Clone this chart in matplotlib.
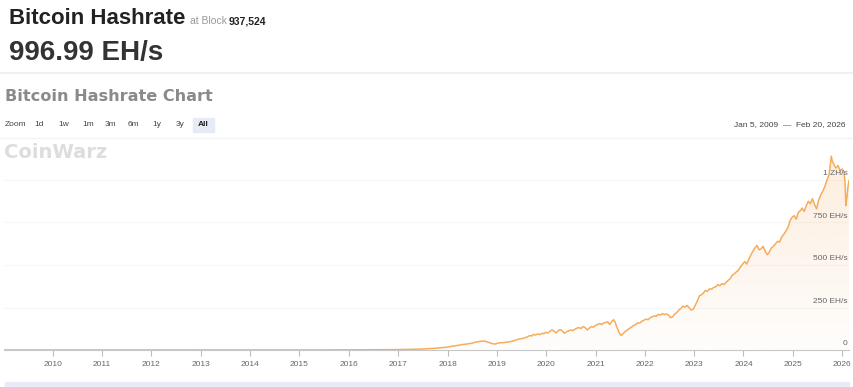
import matplotlib
matplotlib.use('Agg')
import matplotlib.pyplot as plt
import matplotlib.dates as mdates
import matplotlib.patches as mpatches
import matplotlib.transforms as mtransforms
import numpy as np
import pandas as pd

# hashrate history (EH/s)
dates = ['2009-01-05', '2010-01-01', '2011-01-01', '2012-01-01', '2013-01-01', '2014-01-01',
         '2014-07-01', '2015-01-01', '2015-07-01', '2016-01-01', '2016-07-01', '2017-01-01',
         '2017-04-01', '2017-07-01', '2017-10-01', '2018-01-01', '2018-02-01', '2018-03-01',
         '2018-04-01', '2018-05-01', '2018-06-01', '2018-07-01', '2018-08-01', '2018-09-01',
         '2018-10-01', '2018-11-01', '2018-12-01', '2018-12-20', '2019-01-15', '2019-02-15',
         '2019-03-15', '2019-04-15', '2019-05-15', '2019-06-15', '2019-07-15', '2019-08-15',
         '2019-09-01', '2019-09-15', '2019-10-01', '2019-10-15', '2019-11-01', '2019-11-15',
         '2019-12-01', '2019-12-15', '2020-01-01', '2020-01-15', '2020-02-01', '2020-02-15',
         '2020-03-01', '2020-03-15', '2020-04-01', '2020-04-15', '2020-05-01', '2020-05-15',
         '2020-06-01', '2020-06-15', '2020-07-01', '2020-07-15', '2020-08-01', '2020-08-15',
         '2020-09-01', '2020-09-15', '2020-10-01', '2020-10-15', '2020-11-01', '2020-11-15',
         '2020-12-01', '2020-12-15', '2021-01-01', '2021-01-15', '2021-02-01', '2021-02-15',
         '2021-03-01', '2021-03-15', '2021-04-01', '2021-04-15', '2021-05-01', '2021-05-15',
         '2021-05-25', '2021-06-05', '2021-06-20', '2021-07-01', '2021-07-10', '2021-07-25',
         '2021-08-10', '2021-08-25', '2021-09-10', '2021-09-25', '2021-10-10', '2021-10-25',
         '2021-11-10', '2021-11-25', '2021-12-10', '2021-12-25', '2022-01-10', '2022-01-25',
         '2022-02-10', '2022-02-25', '2022-03-10', '2022-03-25', '2022-04-10', '2022-04-25',
         '2022-05-10', '2022-05-25', '2022-06-10', '2022-06-25', '2022-07-10', '2022-07-25',
         '2022-08-10', '2022-08-25', '2022-09-10', '2022-09-25', '2022-10-10', '2022-10-25',
         '2022-11-10', '2022-11-25', '2022-12-10', '2022-12-25', '2023-01-10', '2023-01-25',
         '2023-02-10', '2023-02-25', '2023-03-10', '2023-03-25', '2023-04-10', '2023-04-25',
         '2023-05-10', '2023-05-25', '2023-06-10', '2023-06-25', '2023-07-10', '2023-07-25',
         '2023-08-10', '2023-08-25', '2023-09-10', '2023-09-25', '2023-10-10', '2023-10-25',
         '2023-11-10', '2023-11-25', '2023-12-10', '2023-12-25', '2024-01-10', '2024-01-25',
         '2024-02-10', '2024-02-25', '2024-03-10', '2024-03-25', '2024-04-10', '2024-04-25',
         '2024-05-10', '2024-05-25', '2024-06-10', '2024-06-25', '2024-07-10', '2024-07-25',
         '2024-08-10', '2024-08-25', '2024-09-10', '2024-09-25', '2024-10-10', '2024-10-25',
         '2024-11-10', '2024-11-25', '2024-12-10', '2024-12-25', '2025-01-10', '2025-01-25',
         '2025-02-10', '2025-02-25', '2025-03-10', '2025-03-25', '2025-04-10', '2025-04-25',
         '2025-05-10', '2025-05-25', '2025-06-10', '2025-06-25', '2025-07-10', '2025-07-25',
         '2025-08-10', '2025-08-25', '2025-09-10', '2025-09-25', '2025-10-05', '2025-10-12',
         '2025-10-20', '2025-11-01', '2025-11-15', '2025-12-01', '2025-12-15', '2026-01-01',
         '2026-01-15', '2026-01-22', '2026-01-28', '2026-02-05', '2026-02-12', '2026-02-20']
hashrate = [0, 0, 0, 0, 0, 0.01,
            0.1, 0.3, 0.4, 0.8, 1.5, 2.5,
            3.8, 6, 10, 17, 22, 25,
            29, 33, 36, 40, 47, 51,
            53, 45, 37, 35, 42, 43,
            46, 50, 56, 65, 68, 77,
            85, 82, 92, 88, 95, 90,
            98, 96, 104, 100, 112, 118,
            110, 100, 115, 120, 112, 98,
            108, 112, 118, 114, 122, 128,
            132, 126, 138, 132, 118, 128,
            138, 134, 145, 150, 156, 150,
            158, 162, 165, 150, 168, 178,
            165, 140, 110, 92, 86, 98,
            110, 118, 128, 135, 145, 150,
            160, 158, 170, 175, 182, 178,
            190, 196, 200, 198, 210, 205,
            214, 208, 212, 205, 190, 195,
            212, 220, 235, 245, 258, 252,
            262, 248, 235, 240, 265, 290,
            320, 325, 335, 350, 345, 360,
            358, 368, 372, 385, 378, 390,
            385, 398, 410, 420, 440, 448,
            460, 470, 490, 505, 520, 505,
            535, 560, 580, 600, 615, 590,
            595, 610, 580, 560, 575, 600,
            610, 625, 640, 635, 665, 680,
            700, 720, 760, 780, 790, 770,
            810, 820, 835, 815, 850, 875,
            860, 890, 855, 830, 880, 910,
            935, 960, 1000, 1030, 1090, 1140,
            1110, 1090, 1070, 1085, 1055, 1065,
            1040, 980, 850, 900, 960, 997]

year_ticks = [str(y) for y in range(2010, 2027)]
y_ticks = [0, 250, 500, 750, 1000]
y_labels = ['0', '250 EH/s', '500 EH/s', '750 EH/s', '1 ZH/s']
zoom_buttons = ['Zoom', '1d', '1w', '1m', '3m', '6m', '1y', '3y', 'All']

W, H = 854, 387
FONT = 'Liberation Sans'
line_color = '#f4ad5c'

fig = plt.figure(figsize=(W / 100, H / 100), dpi=100)
fig.patch.set_facecolor('white')

def px(x, y):
    return x / W, 1 - y / H

# header
fig.text(*px(9, 24), 'Bitcoin Hashrate', fontsize=16, fontweight='bold', color='#222222',
         family=FONT, va='baseline')
fig.text(*px(190, 24), 'at Block', fontsize=7.5, color='#999999', family=FONT, va='baseline')
fig.text(*px(229, 24), '937,524', fontsize=7.5, fontweight='bold', color='#222222',
         family=FONT, va='baseline')
fig.text(*px(9, 60), '996.99 EH/s', fontsize=20, fontweight='bold', color='#333333',
         family=FONT, va='baseline')
fig.add_artist(plt.Line2D([0, 1], [1 - 73 / H] * 2, color='#eeeeee', lw=1.2))

fig.text(*px(5, 101), 'Bitcoin Hashrate Chart', fontsize=11.6, fontweight='bold', color='#8a8a8a',
         family='DejaVu Sans', va='baseline')

# range selector row
btn_x = [5, 34, 58, 82, 105, 128, 152, 176, 198]
for lab, bx in zip(zoom_buttons, btn_x):
    if lab == 'All':
        fig.add_artist(mpatches.Rectangle(px(193, 132), 21 / W, 14 / H, color='#e6ebf5',
                                          transform=fig.transFigure))
        fig.text(*px(bx, 125), lab, fontsize=6, fontweight='bold', color='#222222',
                 family=FONT, va='center')
    else:
        fig.text(*px(bx, 125), lab, fontsize=6, color='#444444', family=FONT, va='center')
fig.text(*px(846, 125), 'Jan 5, 2009  \u2014  Feb 20, 2026', fontsize=6, color='#444444',
         family=FONT, va='center', ha='right')
fig.add_artist(plt.Line2D([0, 1], [1 - 138 / H] * 2, color='#f2f2f2', lw=1))

# watermark
fig.text(*px(4, 158), 'CoinWarz', fontsize=14, fontweight='bold', color='#dddddd',
         family='DejaVu Sans', va='baseline')

# navigator strip
fig.add_artist(mpatches.Rectangle(px(5, 387), 844 / W, 5 / H, color='#e8ecf8',
                                  transform=fig.transFigure))

# plot area
x = pd.to_datetime(dates)
x_num = mdates.date2num(x)
y = np.array(hashrate, dtype=float)

ax = fig.add_axes([4 / W, 1 - 350 / H, 845 / W, 205 / H])
ax.set_xlim(x_num[0], x_num[-1])
ymax = 205 / 170 * 1000
ax.set_ylim(0, ymax)

# gradient fill under the line
grad = np.linspace(0.0, 1.0, 256).reshape(-1, 1)
cols = np.zeros((256, 1, 4))
rgb = matplotlib.colors.to_rgb('#f7c08a')
cols[..., 0], cols[..., 1], cols[..., 2] = rgb
cols[..., 3] = 0.03 + 0.25 * grad
img = ax.imshow(cols, aspect='auto', origin='lower',
                extent=[x_num[0], x_num[-1], 0, y.max()], zorder=1)
poly = ax.fill_between(x_num, 0, y, color='none')
clip = poly.get_paths()[0]
img.set_clip_path(clip, transform=ax.transData)

for v in y_ticks[1:]:
    ax.axhline(v, color='#f6f6f6', lw=0.8, zorder=0)

ax.plot(x_num, y, color=line_color, lw=1.1, zorder=3)

ax.set_xticks(mdates.date2num(pd.to_datetime([f'{t}-01-01' for t in year_ticks])))
ax.set_xticklabels(year_ticks)
ax.tick_params(axis='x', direction='out', length=4, width=0.8, color='#bbbbbb',
               labelsize=6, labelcolor='#666666', pad=4)
for lab in ax.get_xticklabels():
    lab.set_family(FONT)
ax.set_yticks([])
for s in ['top', 'right', 'left']:
    ax.spines[s].set_visible(False)
ax.spines['bottom'].set_color('#c8c8c8')
ax.spines['bottom'].set_linewidth(0.8)
ax.patch.set_alpha(0)

off = mtransforms.offset_copy(ax.get_yaxis_transform(), fig=fig, x=0, y=2, units='points')
for v, lab in zip(y_ticks, y_labels):
    ax.text(0.9985, v, lab, transform=off, ha='right', va='bottom', fontsize=6,
            color='#666666', family=FONT, zorder=4)

fig.savefig('out.png', dpi=100, facecolor='white')
